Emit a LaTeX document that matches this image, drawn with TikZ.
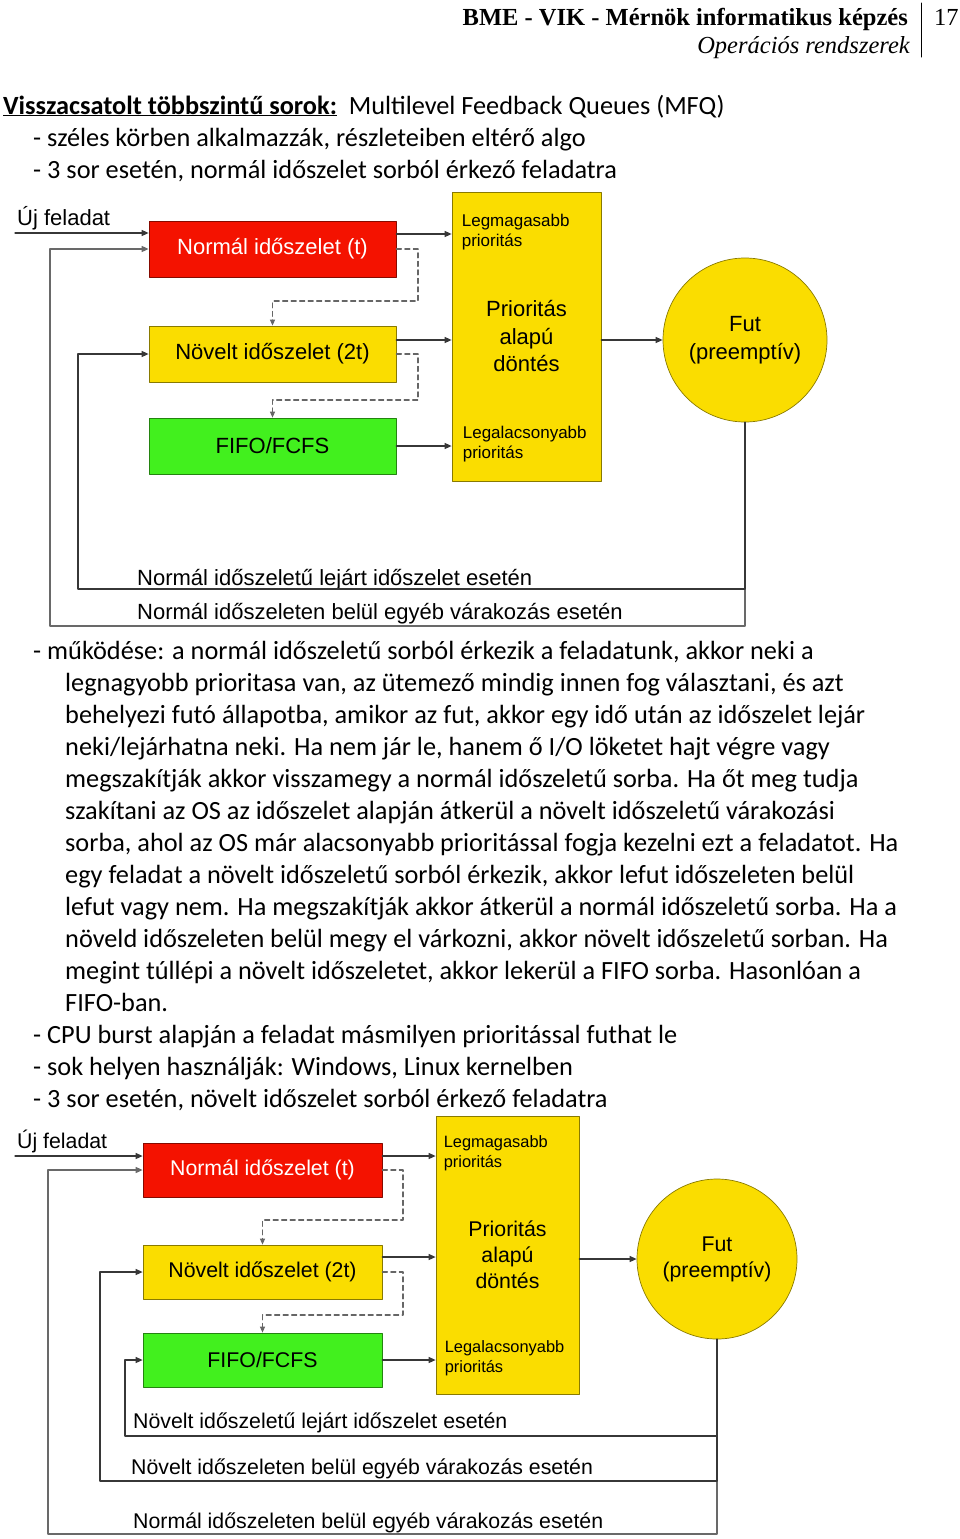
\documentclass[tikz,border=0pt]{standalone}
\usepackage{fontspec}
\setmainfont{Carlito}
\newfontfamily\diagfont{Liberation Sans}
\newfontfamily\headfont{Liberation Serif}
\usetikzlibrary{arrows.meta,calc}

\definecolor{boxred}{RGB}{244,18,0}
\definecolor{boxyellow}{RGB}{250,221,0}
\definecolor{boxgreen}{RGB}{66,240,30}
\definecolor{wiregrey}{RGB}{55,55,55}
\definecolor{loopgrey}{RGB}{105,105,105}

\tikzset{
  bodyline/.style={anchor=base west, inner sep=0pt, font=\fontsize{26.3}{32}\selectfont},
  headline/.style={anchor=base east, inner sep=0pt},
  qbox/.style={draw=#1!55!black, fill=#1, line width=0.7pt, inner sep=0pt},
  sizeA/.style={minimum width=247pt, minimum height=56pt},
  sizeB/.style={minimum width=239pt, minimum height=54pt},
  bigA/.style={font=\diagfont\fontsize{22}{27.5}\selectfont, align=center},
  bigB/.style={font=\diagfont\fontsize{21.3}{26}\selectfont, align=center},
  smallA/.style={font=\diagfont\fontsize{17}{20}\selectfont, align=left, anchor=west, inner sep=0pt},
  smallB/.style={font=\diagfont\fontsize{16.4}{20}\selectfont, align=left, anchor=west, inner sep=0pt},
  runcircle/.style={circle, draw=boxyellow!55!black, fill=boxyellow, line width=0.7pt, inner sep=0pt},
  looplabel/.style={anchor=west, inner sep=0pt},
  wire/.style={draw=wiregrey, line width=1.3pt, -{Triangle[length=7pt,width=6pt]}},
  loopwire/.style={draw=loopgrey, line width=1.5pt, -{Triangle[length=7pt,width=6pt]}},
  dashwire/.style={draw=black!60, line width=1.2pt, dash pattern=on 5pt off 3.5pt, -{Triangle[length=6pt,width=5pt]}}
}

\begin{document}
\begin{tikzpicture}[x=1pt,y=-1pt,line cap=round,line join=round]
  \useasboundingbox (0,0) rectangle (960,1539);

  % page header
  \node[headline, font=\headfont\bfseries\fontsize{24.5}{28}\selectfont] (head) at (908,25) {BME - VIK - Mérnök informatikus képzés};
  \node[headline, font=\headfont\itshape\fontsize{24.5}{28}\selectfont] (subhead) at (910,53) {Operációs rendszerek};
  \node[anchor=base west, inner sep=0pt, font=\headfont\fontsize{24.5}{28}\selectfont] (pagenum) at (934,25) {17};
  \draw[line width=1pt] (921,3) -- (921,57);

  % intro lines
  \node[bodyline] (title) at (3,114) {\underline{\textbf{Visszacsatolt többszintű sorok:}}\ \ Multilevel Feedback Queues (MFQ)};
  \node[bodyline] (intro1) at (33,146) {- széles körben alkalmazzák, részleteiben eltérő algo};
  \node[bodyline] (intro2) at (33,178) {- 3 sor esetén, normál időszelet sorból érkező feladatra};

  % first diagram
  \node[qbox=boxred, sizeA, bigA, text=white] (normal1) at (272.5,249) {Normál időszelet (t)};
  \node[qbox=boxyellow, sizeA, bigA] (novelt1) at (272.5,354) {Növelt időszelet (2t)};
  \node[qbox=boxgreen, sizeA, bigA] (fifo1) at (272.5,446) {FIFO/FCFS};
  \node[qbox=boxyellow, minimum width=149pt, minimum height=289pt, bigA] (prio1) at (526.5,336.5) {Prioritás\\alapú\\döntés};
  \node[smallA] (high1) at ($(prio1.north west)+(10,40)$) {Legmagasabb\\prioritás};
  \node[smallA] (low1) at ($(prio1.south west)+(11,-37)$) {Legalacsonyabb\\prioritás};
  \node[runcircle, minimum size=164pt, bigA] (fut1) at (745,340) {Fut\\(preemptív)};
  \node[bigA, anchor=west, inner sep=0pt] (new1lbl) at (17,218) {Új feladat};
  \node[looplabel, bigA] (exp1) at (137,580) {Normál időszeletű lejárt időszelet esetén};
  \node[looplabel, bigA] (wait1) at (137,614) {Normál időszeleten belül egyéb várakozás esetén};

  \coordinate (new1) at (15,233);
  \coordinate (outer1) at (50,626);
  \coordinate (inner1) at (78,589);
  \coordinate (drop1) at (418,301);
  \coordinate (drop2) at (418,400);

  \draw[wire] (new1) -- (new1 -| normal1.west);
  \draw[wire] ([yshift=15pt]normal1.east) -- ([yshift=15pt]normal1.east -| prio1.west);
  \draw[wire] ([yshift=14pt]novelt1.east) -- ([yshift=14pt]novelt1.east -| prio1.west);
  \draw[wire] (fifo1.east) -- (fifo1.east -| prio1.west);
  \draw[wire] (prio1.east |- fut1) -- (fut1);
  \draw[dashwire] (normal1.east) -| (drop1) -| (novelt1.north);
  \draw[dashwire] (novelt1.east) -| (drop2) -| (fifo1.north);
  \draw[loopwire] (fut1.south) |- (outer1) |- (normal1.west);
  \draw[wire] (fut1.south) |- (inner1) |- (novelt1.west);

  % explanation
  \node[bodyline] (par1) at (33,659) {- működése: a normál időszeletű sorból érkezik a feladatunk, akkor neki a};
  \node[bodyline] (par2) at (65,691) {legnagyobb prioritasa van, az ütemező mindig innen fog választani, és azt};
  \node[bodyline] (par3) at (65,723) {behelyezi futó állapotba, amikor az fut, akkor egy idő után az időszelet lejár};
  \node[bodyline] (par4) at (65,755) {neki/lejárhatna neki. Ha nem jár le, hanem ő I/O löketet hajt végre vagy};
  \node[bodyline] (par5) at (65,787) {megszakítják akkor visszamegy a normál időszeletű sorba. Ha őt meg tudja};
  \node[bodyline] (par6) at (65,819) {szakítani az OS az időszelet alapján átkerül a növelt időszeletű várakozási};
  \node[bodyline] (par7) at (65,851) {sorba, ahol az OS már alacsonyabb prioritással fogja kezelni ezt a feladatot. Ha};
  \node[bodyline] (par8) at (65,883) {egy feladat a növelt időszeletű sorból érkezik, akkor lefut időszeleten belül};
  \node[bodyline] (par9) at (65,915) {lefut vagy nem. Ha megszakítják akkor átkerül a normál időszeletű sorba. Ha a};
  \node[bodyline] (par10) at (65,947) {növeld időszeleten belül megy el várkozni, akkor növelt időszeletű sorban. Ha};
  \node[bodyline] (par11) at (65,979) {megint túllépi a növelt időszeletet, akkor lekerül a FIFO sorba. Hasonlóan a};
  \node[bodyline] (par12) at (65,1011) {FIFO-ban.};
  \node[bodyline] (cpu) at (33,1043) {- CPU burst alapján a feladat másmilyen prioritással futhat le};
  \node[bodyline] (uses) at (33,1075) {- sok helyen használják: Windows, Linux kernelben};
  \node[bodyline] (intro3) at (33,1107) {- 3 sor esetén, növelt időszelet sorból érkező feladatra};

  % second diagram
  \node[qbox=boxred, sizeB, bigB, text=white] (normal2) at (262.5,1170) {Normál időszelet (t)};
  \node[qbox=boxyellow, sizeB, bigB] (novelt2) at (262.5,1272) {Növelt időszelet (2t)};
  \node[qbox=boxgreen, sizeB, bigB] (fifo2) at (262.5,1360) {FIFO/FCFS};
  \node[qbox=boxyellow, minimum width=143pt, minimum height=278pt, bigB] (prio2) at (507.5,1255) {Prioritás\\alapú\\döntés};
  \node[smallB] (high2) at ($(prio2.north west)+(8,38)$) {Legmagasabb\\prioritás};
  \node[smallB] (low2) at ($(prio2.south west)+(9,-36)$) {Legalacsonyabb\\prioritás};
  \node[runcircle, minimum size=160pt, bigB] (fut2) at (717,1259) {Fut\\(preemptív)};
  \node[bigB, anchor=west, inner sep=0pt] (new2lbl) at (17,1141) {Új feladat};
  \node[looplabel, bigB] (exp2) at (133,1423) {Növelt időszeletű lejárt időszelet esetén};
  \node[looplabel, bigB] (wait2) at (131,1469) {Növelt időszeleten belül egyéb várakozás esetén};
  \node[looplabel, bigB] (wait3) at (133,1523) {Normál időszeleten belül egyéb várakozás esetén};

  \coordinate (new2) at (15,1156);
  \coordinate (outer2) at (48,1534);
  \coordinate (middle2) at (100,1481);
  \coordinate (inner2) at (125,1436);
  \coordinate (drop3) at (403,1220);
  \coordinate (drop4) at (403,1315);

  \draw[wire] (new2) -- (new2 -| normal2.west);
  \draw[wire] ([yshift=14pt]normal2.east) -- ([yshift=14pt]normal2.east -| prio2.west);
  \draw[wire] ([yshift=15pt]novelt2.east) -- ([yshift=15pt]novelt2.east -| prio2.west);
  \draw[wire] (fifo2.east) -- (fifo2.east -| prio2.west);
  \draw[wire] (prio2.east |- fut2) -- (fut2);
  \draw[dashwire] (normal2.east) -| (drop3) -| (novelt2.north);
  \draw[dashwire] (novelt2.east) -| (drop4) -| (fifo2.north);
  \draw[loopwire] (fut2.south) |- (outer2) |- (normal2.west);
  \draw[wire] (fut2.south) |- (middle2) |- (novelt2.west);
  \draw[wire] (fut2.south) |- (inner2) |- (fifo2.west);
\end{tikzpicture}
\end{document}
